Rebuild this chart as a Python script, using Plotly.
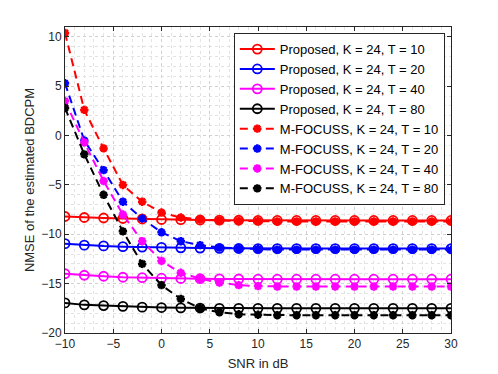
import plotly.graph_objects as go

# SNR points (dB)
snr = [-10, -8, -6, -4, -2, 0, 2, 4, 6, 8, 10, 12, 14, 16, 18, 20, 22, 24, 26, 28, 30]

# Proposed method NMSE (dB)
prop_t10 = [-8.2, -8.3, -8.35, -8.4, -8.45, -8.5, -8.52, -8.55, -8.57, -8.58, -8.6, -8.6, -8.6, -8.6, -8.6, -8.6, -8.6, -8.6, -8.6, -8.6, -8.6]
prop_t20 = [-10.95, -11.1, -11.18, -11.25, -11.3, -11.33, -11.37, -11.4, -11.42, -11.44, -11.45, -11.45, -11.45, -11.45, -11.45, -11.45, -11.45, -11.45, -11.45, -11.45, -11.45]
prop_t40 = [-14.0, -14.15, -14.25, -14.35, -14.4, -14.45, -14.48, -14.5, -14.52, -14.53, -14.55, -14.55, -14.55, -14.55, -14.55, -14.55, -14.55, -14.55, -14.55, -14.55, -14.55]
prop_t80 = [-16.95, -17.15, -17.22, -17.3, -17.38, -17.42, -17.45, -17.47, -17.5, -17.5, -17.5, -17.5, -17.5, -17.5, -17.5, -17.5, -17.5, -17.5, -17.5, -17.5, -17.5]

# M-FOCUSS NMSE (dB)
foc_t10 = [10.4, 2.6, -1.3, -5.0, -6.7, -7.8, -8.3, -8.5, -8.6, -8.65, -8.65, -8.7, -8.7, -8.7, -8.7, -8.7, -8.7, -8.7, -8.7, -8.7, -8.7]
foc_t20 = [5.3, -0.5, -3.5, -6.7, -8.4, -9.8, -10.7, -11.1, -11.35, -11.45, -11.5, -11.55, -11.55, -11.55, -11.55, -11.55, -11.55, -11.55, -11.55, -11.55, -11.55]
foc_t40 = [3.5, -0.7, -4.6, -8.0, -10.7, -12.7, -13.9, -14.5, -14.9, -15.15, -15.25, -15.3, -15.3, -15.3, -15.3, -15.3, -15.3, -15.3, -15.3, -15.3, -15.3]
foc_t80 = [2.8, -1.9, -6.0, -9.7, -13.0, -15.15, -16.55, -17.5, -17.9, -18.1, -18.15, -18.2, -18.2, -18.2, -18.2, -18.2, -18.2, -18.2, -18.2, -18.2, -18.2]

colors = ["#ff0000", "#0000ff", "#ff00ff", "#000000"]
t_values = [10, 20, 40, 80]

fig = go.Figure()

# --- Proposed: solid lines with open circles ---
for ys, c, t in zip([prop_t10, prop_t20, prop_t40, prop_t80], colors, t_values):
    fig.add_trace(go.Scatter(
        x=snr, y=ys, mode="lines+markers",
        name=f"Proposed, K = 24, T = {t}",
        line=dict(color=c, width=2),
        marker=dict(symbol="circle-open", size=9, color=c, line=dict(width=1.8, color=c))
    ))

# --- M-FOCUSS: dashed lines with asterisks ---
for ys, c, t in zip([foc_t10, foc_t20, foc_t40, foc_t80], colors, t_values):
    fig.add_trace(go.Scatter(
        x=snr, y=ys, mode="lines+markers",
        name=f"M-FOCUSS, K = 24, T = {t}",
        line=dict(color=c, width=2, dash="8px,5px"),
        marker=dict(symbol="asterisk-open", size=7, color=c, line=dict(width=2.5, color=c))
    ))

axis_common = dict(
    showline=True, linecolor="#262626", linewidth=1, mirror="allticks",
    ticks="inside", ticklen=4, tickcolor="#262626",
    showgrid=True, gridcolor="#d0d0d0", griddash="dot", gridwidth=1,
    zeroline=False, automargin=False,
    tickfont=dict(family="Liberation Sans, Arial", size=12, color="#262626"),
    title_font=dict(family="Liberation Sans, Arial", size=13, color="#262626"),
)

fig.update_xaxes(
    range=[-10, 30], tickvals=[-10, -5, 0, 5, 10, 15, 20, 25, 30],
    minor=dict(dtick=1, showgrid=True, gridcolor="#e3e3e3", griddash="dot", ticks=""),
    title_text="SNR in dB", title_standoff=8, **axis_common
)
fig.update_yaxes(
    range=[-20, 11], tickvals=[-20, -15, -10, -5, 0, 5, 10],
    minor=dict(dtick=1, showgrid=True, gridcolor="#e3e3e3", griddash="dot", ticks=""),
    title_text="NMSE of the estimated BDCPM", title_standoff=3, **axis_common
)

fig.update_layout(
    width=498, height=374,
    margin=dict(l=65, r=47, t=27, b=41),
    paper_bgcolor="white", plot_bgcolor="white",
    font=dict(family="Liberation Sans, Arial", size=13, color="#000000"),
    showlegend=True,
    legend=dict(
        x=0.984, y=0.98, xanchor="right", yanchor="top",
        bgcolor="white", bordercolor="#262626", borderwidth=1,
        font=dict(size=13, color="#000000"),
        itemwidth=35, tracegroupgap=0,
    ),
)

# drop the default page margin so the figure sits at the window's corner
fig.write_html("out.html", config={"displayModeBar": False},
               post_script="document.body.style.margin='0';")
